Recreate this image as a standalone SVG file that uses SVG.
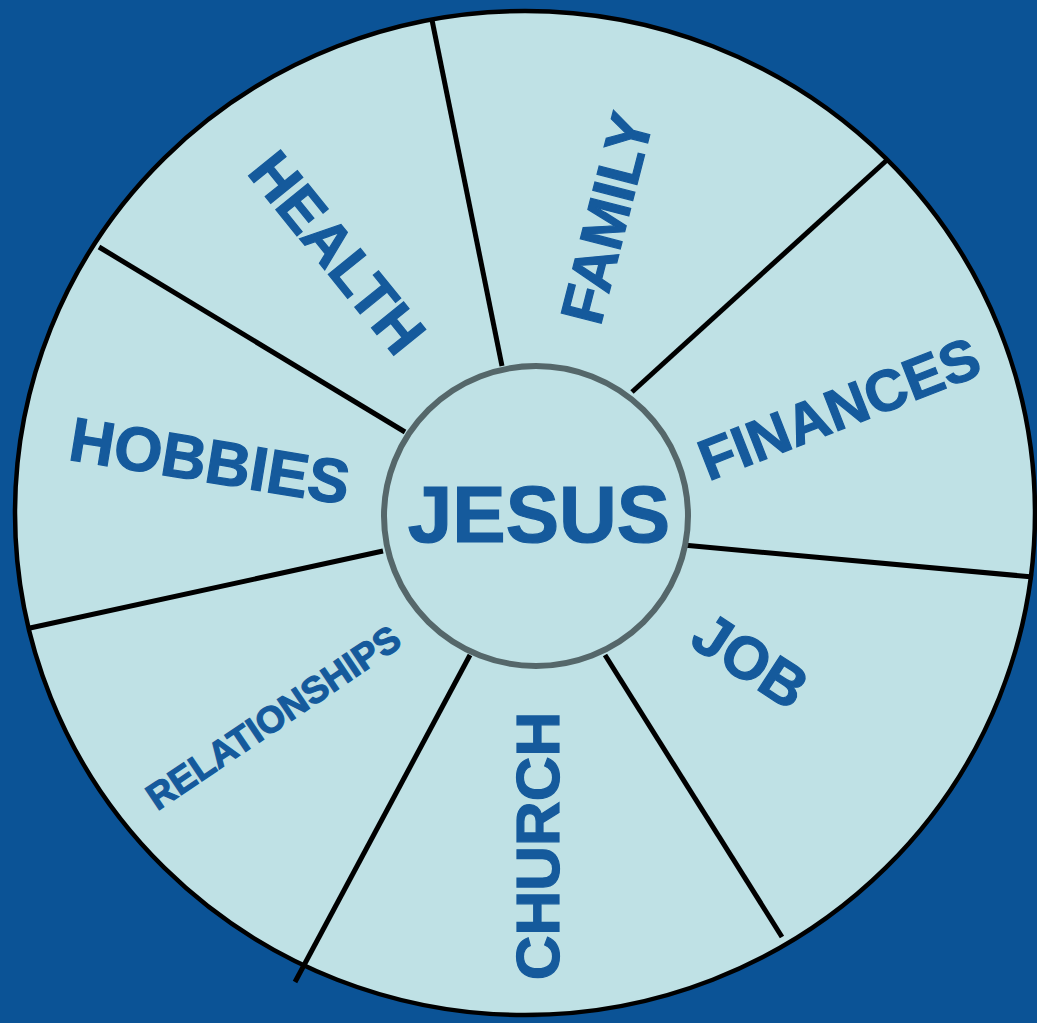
<svg xmlns="http://www.w3.org/2000/svg" width="1037" height="1023" viewBox="0 0 1037 1023">
<style>
.lbl{font-family:"Liberation Sans",Arial,sans-serif;font-weight:bold;fill:#155a9c;stroke:#155a9c;stroke-width:1.2;text-anchor:middle}
.spoke{stroke:#000;stroke-width:5;stroke-linecap:butt}
</style>
<rect width="1037" height="1023" fill="#0b5396"/>
<g id="wheel">
<ellipse cx="525" cy="513" rx="510" ry="502" fill="#bfe1e5" stroke="#000" stroke-width="4.5"/>
</g>
<g id="connectors">
<line class="spoke" x1="432" y1="20" x2="502" y2="366"/>
<line class="spoke" x1="887" y1="160" x2="632" y2="392"/>
<line class="spoke" x1="683" y1="545" x2="1033" y2="577"/>
<line class="spoke" x1="605" y1="655" x2="782" y2="937"/>
<line class="spoke" x1="470" y1="655" x2="295" y2="982"/>
<line class="spoke" x1="383" y1="551" x2="30" y2="628"/>
<line class="spoke" x1="405" y1="432" x2="99" y2="247"/>
</g>
<g id="jesus">
<ellipse cx="536" cy="516" rx="152" ry="150" fill="#bfe1e5" stroke="#55676a" stroke-width="6"/>
<text class="lbl" x="539" y="542" font-size="80">JESUS</text>
</g>
<g id="health"><text class="lbl" font-size="60" transform="translate(338,252) rotate(51)" dy="0.36em">HEALTH</text></g>
<g id="family"><text class="lbl" font-size="60" transform="translate(606,218) rotate(-75.6)" dy="0.36em">FAMILY</text></g>
<g id="finances"><text class="lbl" font-size="58" transform="translate(839,408) rotate(-21.4)" dy="0.36em">FINANCES</text></g>
<g id="hobbies"><text class="lbl" font-size="62" transform="translate(210,460) rotate(9.2)" dy="0.36em">HOBBIES</text></g>
<g id="job"><text class="lbl" font-size="60" transform="translate(751,660) rotate(33)" dy="0.36em">JOB</text></g>
<g id="church"><text class="lbl" font-size="62" transform="translate(537,846) rotate(-90)" dy="0.36em">CHURCH</text></g>
<g id="relationships"><text class="lbl" font-size="37" transform="translate(273,717) rotate(-34)" dy="0.36em">RELATIONSHIPS</text></g>
</svg>
